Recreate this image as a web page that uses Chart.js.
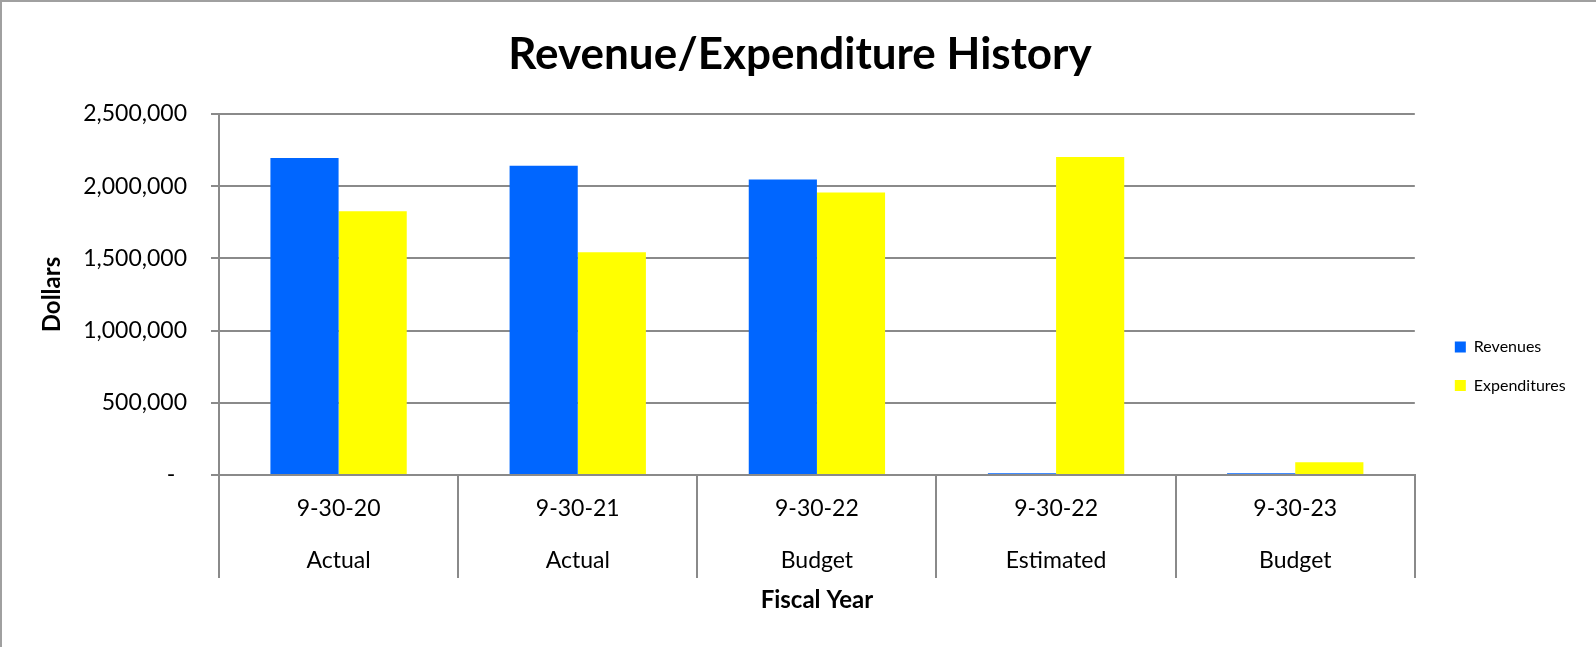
<!DOCTYPE html>
<html>
<head>
<meta charset="utf-8">
<script src="https://cdn.jsdelivr.net/npm/chart.js@4.4.1/dist/chart.umd.min.js"></script>
<style>
  body { margin: 0; background: #fff; }
  #wrap { position: relative; width: 1596px; height: 647px; }
  #frame {
    position: absolute; left: 0; top: 0; width: 1596px; height: 647px;
    box-sizing: border-box; border-top: 2px solid #a0a0a0; border-left: 2px solid #a0a0a0;
    pointer-events: none;
  }
</style>
</head>
<body>
<div id="wrap">
  <canvas id="chart" width="1596" height="647"></canvas>
  <div id="frame"></div>
</div>
<script>
// chart data
const years = ['9-30-20', '9-30-21', '9-30-22', '9-30-22', '9-30-23'];
const kinds = ['Actual', 'Actual', 'Budget', 'Estimated', 'Budget'];
const revenues = [2195000, 2142000, 2046000, 12000, 12000];
const expenditures = [1826000, 1543000, 1956000, 2203000, 88000];
const yTicks = [0, 500000, 1000000, 1500000, 2000000, 2500000];

const gridGray = '#8a8a8a';
const font = 'Lato';

const labels = years.map((y, i) => [y, kinds[i]]);

new Chart(document.getElementById('chart'), {
    type: 'bar',
    data: {
        labels: labels,
        datasets: [
            { label: 'Revenues', data: revenues, backgroundColor: '#0066ff' },
            { label: 'Expenditures', data: expenditures, backgroundColor: '#ffff00' }
        ]
    },
    options: {
        responsive: false,
        animation: false,
        layout: { padding: { left: 24.3, right: 20.3, top: 0, bottom: 28 } },
        datasets: { bar: { categoryPercentage: 0.57, barPercentage: 1.0 } },
        scales: {
            x: {
                grid: { display: true, drawOnChartArea: false, offset: true, tickLength: 103, color: gridGray, lineWidth: 2 },
                border: { color: gridGray, width: 2 },
                ticks: {
                    color: '#000', padding: -95, maxRotation: 0, autoSkip: false,
                    font: { family: font, size: 23, lineHeight: 2.26 }
                },
                title: {
                    display: true, text: 'Fiscal Year', color: '#000',
                    font: { family: font, size: 24, weight: 'bold', lineHeight: 1.2 },
                    padding: { top: 0, bottom: 4 }
                },
                afterFit: s => { s.height = 144; }
            },
            y: {
                min: 0, max: 2500000,
                afterBuildTicks: s => { s.ticks = yTicks.map(v => ({ value: v })); },
                grid: { color: gridGray, lineWidth: 2, tickLength: 8 },
                border: { color: gridGray, width: 2 },
                ticks: {
                    color: '#000', padding: 24,
                    font: { family: font, size: 23 },
                    callback: v => v === 0 ? '-  ' : v.toLocaleString('en-US')
                },
                title: {
                    display: true, text: 'Dollars', color: '#000',
                    font: { family: font, size: 24, weight: 'bold', lineHeight: 1.2 },
                    padding: { top: 13.3, bottom: 10 }
                },
                afterFit: s => { s.width = 194.7; }
            },
            // empty spacer between plot and legend
            gap: {
                type: 'linear', position: 'right', display: true,
                grid: { display: false }, border: { display: false }, ticks: { display: false },
                afterFit: s => { s.width = 17.5; }
            }
        },
        plugins: {
            title: {
                display: true, text: 'Revenue/Expenditure History', color: '#000',
                font: { family: font, size: 44, weight: 'bold', lineHeight: 1.2 },
                padding: { top: 28.5, bottom: 32.7 }
            },
            legend: {
                position: 'right',
                align: 'start',
                // blank title only pushes the items down
                title: { display: true, text: ' ', font: { size: 10, lineHeight: 1 }, padding: { top: 306.5, bottom: 0 } },
                labels: {
                    color: '#000', boxWidth: 11, boxHeight: 11, padding: 22.5,
                    font: { family: font, size: 16 }
                }
            },
            tooltip: { enabled: false }
        }
    }
});
</script>
</body>
</html>
